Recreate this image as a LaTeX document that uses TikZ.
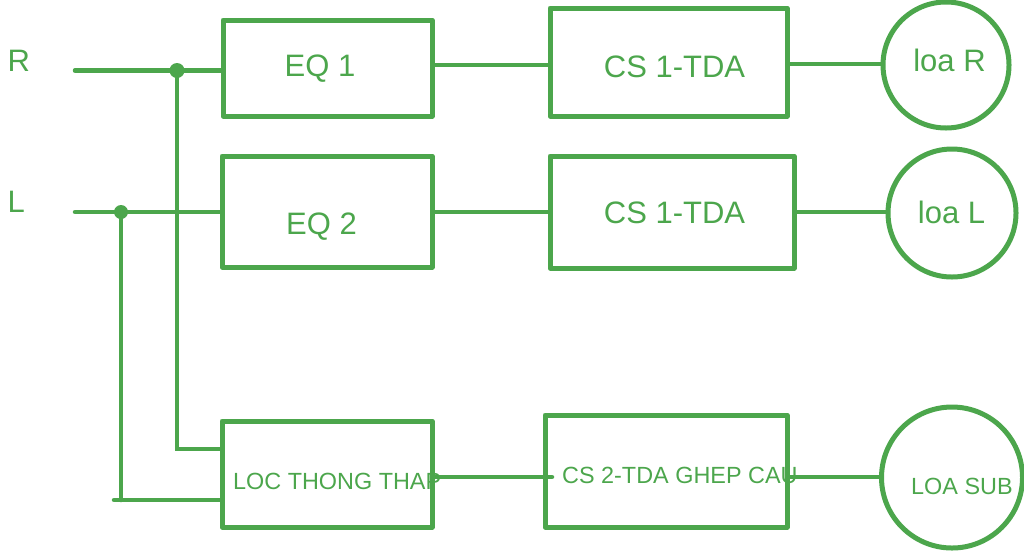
\documentclass[tikz,border=0pt]{standalone}
\usepackage{fontspec}
\setmainfont{Liberation Sans}
\definecolor{gr}{RGB}{76,166,76}
\begin{document}
\begin{tikzpicture}[x=1pt,y=-1pt,
  wire/.style={draw=gr,line width=4.5pt,line cap=round},
  blk/.style={draw=gr,line width=5pt,rectangle,inner sep=0pt,line join=round},
  spk/.style={draw=gr,line width=5pt,circle,inner sep=0pt},
  big/.style={text=gr,inner sep=0pt,font=\fontsize{31}{36}\selectfont},
  small/.style={text=gr,inner sep=0pt,font=\fontsize{23.4}{28}\selectfont},
  jdot/.style={fill=gr,circle,inner sep=0pt}]
\useasboundingbox (0,0) rectangle (1024,550);
% texts
\node[big,anchor=base west] (tR) at (7.5,71) {R};
\node[big,anchor=base west] (tL) at (7.5,212) {L};
\node[big,anchor=base] (t1) at (320,76) {EQ 1};
\node[big,anchor=base] (t2) at (321.5,234) {EQ 2};
\node[big,anchor=base] (t3) at (674.5,77) {CS 1-TDA};
\node[big,anchor=base] (t4) at (674.5,223) {CS 1-TDA};
\node[big,anchor=base] (t5) at (949.5,71) {loa R};
\node[big,anchor=base] (t6) at (951.5,223) {loa L};
\node[small,anchor=base west] (t7) at (233,489) {LOC THONG THAP};
\node[small,anchor=base west] (t8) at (562,483) {CS 2-TDA GHEP CAU};
\node[small,anchor=base west] (t9) at (911,494) {LOA SUB};
% blocks
\node[blk,minimum width=209pt,minimum height=96pt] (eq1) at (327.5,68) {};
\node[blk,minimum width=210pt,minimum height=111pt] (eq2) at (327,211.5) {};
\node[blk,minimum width=237pt,minimum height=108pt] (cs1a) at (668.5,62) {};
\node[blk,minimum width=244pt,minimum height=112pt] (cs1b) at (672,212) {};
\node[blk,minimum width=210pt,minimum height=106pt] (loc) at (327,474) {};
\node[blk,minimum width=242pt,minimum height=112pt] (cs2) at (666,471) {};
\node[spk,minimum size=126pt] (loaR) at (946,65) {};
\node[spk,minimum size=128pt] (loaL) at (952,213) {};
\node[spk,minimum size=141pt] (sub) at (952,477.5) {};
% wire helper coordinates
\coordinate (Rin) at (75,70.5);
\coordinate (Lin) at (75,212);
\coordinate (jR) at (177,70.5);
\coordinate (jL) at (121,212);
\coordinate (Rb) at (177,449);
\coordinate (Lb) at (121,500);
\coordinate (Ls) at (114,500);
\coordinate (h1) at (0,65);
\coordinate (h2) at (0,64);
\coordinate (h3) at (0,212);
\coordinate (h5) at (0,477);
\coordinate (h5e) at (552,477);
% wires
\draw[wire] (Rin) -- (Rin -| eq1.west);
\draw[wire] (Lin) -- (Lin -| eq2.west);
\draw[wire] (jR) -- (Rb) -- (Rb -| loc.west);
\draw[wire] (jL) -- (Lb);
\draw[wire] (Ls) -- (Ls -| loc.west);
\draw[wire] (eq1.east |- h1) -- (cs1a.west |- h1);
\draw[wire] (cs1a.east |- h2) -- (loaR.west |- h2);
\draw[wire] (eq2.east |- h3) -- (cs1b.west |- h3);
\draw[wire] (cs1b.east |- h3) -- (loaL.west |- h3);
\draw[wire] (loc.east |- h5) -- (h5e);
\draw[wire] (cs2.east |- h5) -- (sub.west |- h5);
% junction dots
\node[jdot,minimum size=15pt] (dR) at (jR) {};
\node[jdot,minimum size=14pt] (dL) at (jL) {};
\end{tikzpicture}
\end{document}
